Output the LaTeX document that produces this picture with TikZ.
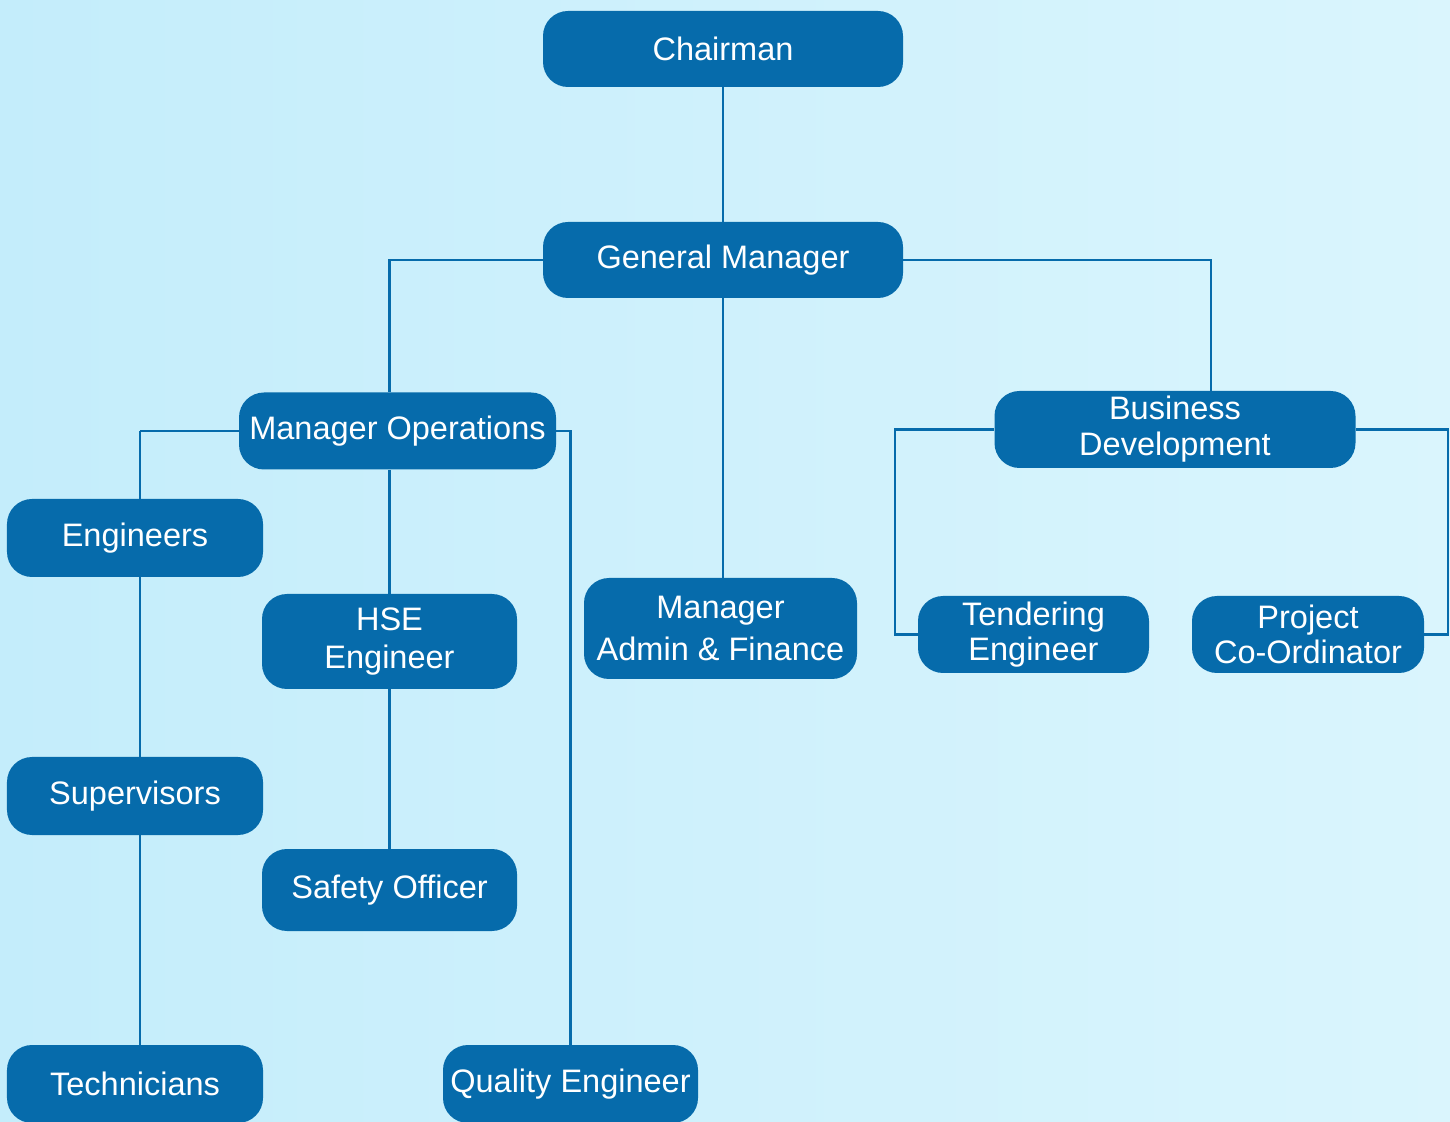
\documentclass[tikz,border=0pt]{standalone}
\usepackage{fontspec}
\setmainfont{Liberation Sans}
\usetikzlibrary{calc}

\definecolor{boxblue}{RGB}{6,107,171}
\definecolor{skyleft}{RGB}{196,237,251}
\definecolor{skymid}{RGB}{230,249,254}
\definecolor{skyright}{RGB}{218,245,253}

\begin{document}
\begin{tikzpicture}[
    role/.style={fill=boxblue, text=white, rounded corners=0.5cm, inner sep=0pt,
      align=center, font=\fontsize{18.5}{20.5}\selectfont},
    link/.style={draw=boxblue, line width=1.4pt}]
    \useasboundingbox (0,0) rectangle (29,-22.44);
    \clip (0,0) rectangle (29,-22.44);
    % Background.
    \shade[left color=skyleft, middle color=skymid, right color=skyright] (0,0) rectangle (29,-22.44);
    % Top.
    \node[role, minimum width=7.2cm, minimum height=1.52cm] (ch) at (14.46,-0.98) {Chairman};
    \node[role, minimum width=7.2cm, minimum height=1.52cm] (gm) at (14.46,-5.2) {General Manager};
    % Second level.
    \node[role, minimum width=6.34cm, minimum height=1.54cm] (mo) at (7.95,-8.62) {Manager Operations};
    \node[role, minimum width=7.22cm, minimum height=1.54cm] (bd) at (23.5,-8.59) {Business\\Development};
    \node[role, minimum width=5.46cm, minimum height=2.02cm, font=\fontsize{18.5}{24}\selectfont] (maf) at (14.41,-12.57) {Manager\\Admin \& Finance};
    % Operations.
    \node[role, minimum width=5.12cm, minimum height=1.56cm] (en) at (2.7,-10.76) {Engineers};
    \node[role, minimum width=5.12cm, minimum height=1.56cm] (su) at (2.7,-15.92) {Supervisors};
    \node[role, minimum width=5.12cm, minimum height=1.56cm] (tc) at (2.7,-21.68) {Technicians};
    \node[role, minimum width=5.1cm, minimum height=1.9cm, font=\fontsize{18.5}{21.5}\selectfont] (hse) at (7.79,-12.83) {HSE\\Engineer};
    \node[role, minimum width=5.1cm, minimum height=1.64cm] (so) at (7.79,-17.8) {Safety Officer};
    \node[role, minimum width=5.1cm, minimum height=1.56cm] (qe) at (11.41,-21.68) {Quality Engineer};
    % Business.
    \node[role, minimum width=4.62cm, minimum height=1.54cm, font=\fontsize{18.5}{19.5}\selectfont] (te) at (20.67,-12.69) {Tendering\\Engineer};
    \node[role, minimum width=4.64cm, minimum height=1.54cm, font=\fontsize{18.5}{19.5}\selectfont] (pc) at (26.16,-12.69) {Project\\Co-Ordinator};
    % Links.
    \draw[link] (ch) -- (gm);
    \draw[link] (gm.west) -| (hse.north |- mo.north);
    \draw[link] (gm.east) -| ([xshift=0.72cm]bd.north);
    \draw[link] (gm.south) -- (gm.south |- maf.north);
    \draw[link] ([xshift=0.1cm]en.north |- mo.west) -- (mo.west);
    \draw[link] ([xshift=0.1cm]en.north |- mo.west) -- ([xshift=0.1cm]en.north);
    \draw[link] ([xshift=0.1cm]en.south) -- ([xshift=0.1cm]su.north);
    \draw[link] ([xshift=0.1cm]su.south) -- ([xshift=0.1cm]tc.north);
    \draw[link] (hse.north |- mo.south) -- (hse);
    \draw[link] (hse) -- (so);
    \draw[link] (mo.east) -| (qe);
    \draw[link] (bd.west) -- ++(-1.98,0) |- (te.west);
    \draw[link] (bd.east) -- ++(1.84,0) |- (pc.east);
  \end{tikzpicture}
\end{document}
